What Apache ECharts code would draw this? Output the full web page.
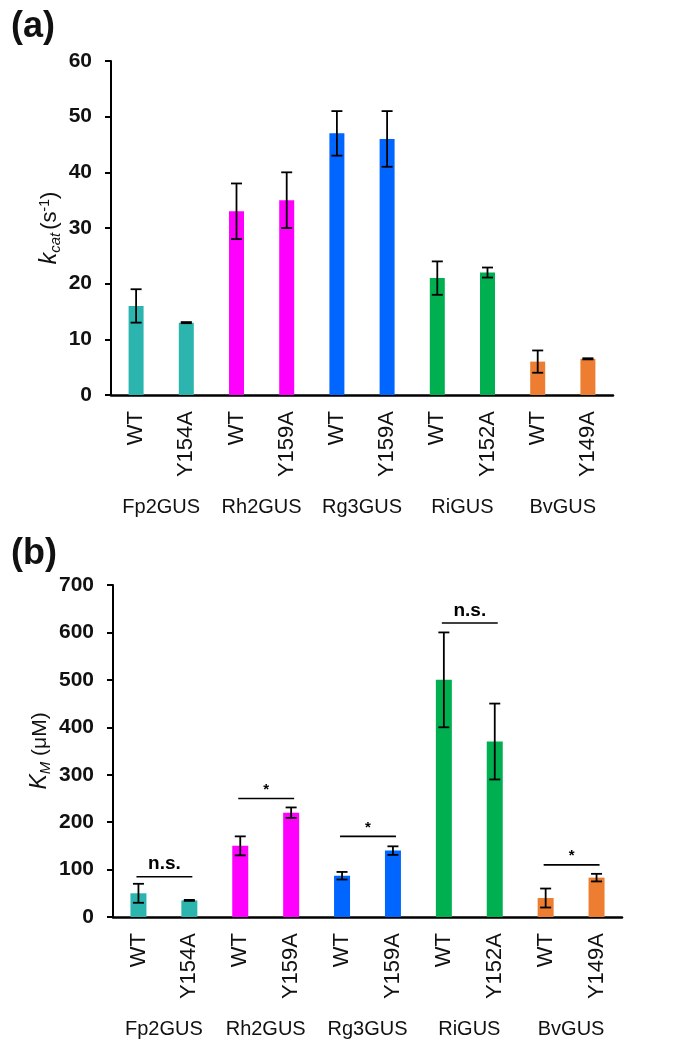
<!DOCTYPE html>
<html>
<head>
<meta charset="utf-8">
<script src="https://cdn.jsdelivr.net/npm/echarts@6/dist/echarts.min.js"></script>
<style>
html,body{margin:0;padding:0;background:#fff;}
#chart{width:681px;height:1050px;}
</style>
</head>
<body>
<div id="chart"></div>
<script>
// ---- data ----
const variants = ['WT','Y154A','WT','Y159A','WT','Y159A','WT','Y152A','WT','Y149A'];
const enzymes = ['Fp2GUS','Rh2GUS','Rg3GUS','RiGUS','BvGUS'];
const kcat = [16, 13, 33, 35, 47, 46, 21, 22, 6, 6.5];
const kcatErr = [3, 0.1, 5, 5, 4, 5, 3, 0.9, 2, 0.1];
const km = [50, 35, 150, 220, 87, 140, 500, 370, 40, 83];
const kmErr = [20, 1, 20, 11, 8, 9, 100, 80, 20, 8];
const sigLabels = ['n.s.', '*', '*', 'n.s.', '*'];
const sigLevels = [85, 250, 170, 620, 110];
const kcatTicks = {min: 0, max: 60, interval: 10};
const kmTicks = {min: 0, max: 700, interval: 100};

// ---- style ----
const groupColors = ['#2CB5AE', '#FF00FF', '#0066FF', '#00B050', '#ED7D31'];
const FONT = 'Arial, "Liberation Sans", sans-serif';

const chart = echarts.init(document.getElementById('chart'));

function barData(vals) {
  return vals.map((v, i) => ({value: v, itemStyle: {color: groupColors[Math.floor(i / 2)]}}));
}

function errRender(params, api) {
  const x = api.value(0), v = api.value(1), e = api.value(2);
  const t = api.coord([x, v + e]);
  const b = api.coord([x, v - e]);
  const hw = 5.5;
  const st = {stroke: '#000', lineWidth: 1.8};
  return {type: 'group', children: [
    {type: 'line', shape: {x1: t[0], y1: t[1], x2: b[0], y2: b[1]}, style: st},
    {type: 'line', shape: {x1: t[0] - hw, y1: t[1], x2: t[0] + hw, y2: t[1]}, style: st},
    {type: 'line', shape: {x1: b[0] - hw, y1: b[1], x2: b[0] + hw, y2: b[1]}, style: st}
  ]};
}

function sigRender(params, api) {
  const g = api.value(0), lv = api.value(1);
  const label = sigLabels[params.dataIndex];
  const a = api.coord([2 * g, lv]);
  const b = api.coord([2 * g + 1, lv]);
  const x1 = a[0] - 2, x2 = b[0] + 3, y = a[1];
  const isStar = label === '*';
  return {type: 'group', children: [
    {type: 'line', shape: {x1: x1, y1: y, x2: x2, y2: y}, style: {stroke: '#000', lineWidth: 1.6}},
    {type: 'text', style: {
      text: label, x: (x1 + x2) / 2, y: isStar ? y - 9 : y - 3,
      align: 'center', verticalAlign: isStar ? 'middle' : 'bottom',
      font: isStar ? ('bold 15px ' + FONT) : ('bold 19px ' + FONT), fill: '#000'
    }}
  ]};
}

function xAxes(gridIndex) {
  return [
    {
      type: 'category', gridIndex: gridIndex, data: variants, position: 'bottom',
      axisLine: {lineStyle: {color: '#000', width: 2.5}},
      axisTick: {show: false},
      axisLabel: {rotate: 90, margin: 16, fontSize: 22, color: '#111', fontFamily: FONT, interval: 0}
    },
    {
      type: 'category', gridIndex: gridIndex, data: enzymes, position: 'bottom',
      axisLine: {show: false}, axisTick: {show: false},
      axisLabel: {margin: 102, fontSize: 20, color: '#111', fontFamily: FONT, interval: 0}
    }
  ];
}

function yAxis(gridIndex, ticks, name, rich, gap, margin) {
  return {
    type: 'value', gridIndex: gridIndex, min: ticks.min, max: ticks.max, interval: ticks.interval,
    name: name, nameLocation: 'middle', nameGap: gap, nameMoveOverlap: false,
    nameTextStyle: {rich: rich, color: '#111'},
    axisLine: {show: true, lineStyle: {color: '#000', width: 2}},
    axisTick: {show: true, length: 6, lineStyle: {color: '#000', width: 2}},
    axisLabel: {margin: margin, fontSize: 21, fontWeight: 'bold', color: '#111', fontFamily: FONT},
    splitLine: {show: false}
  };
}

const richKcat = {
  i: {fontSize: 23, fontStyle: 'italic', fontFamily: FONT, lineHeight: 32, verticalAlign: 'middle'},
  sub: {fontSize: 15, fontStyle: 'italic', fontFamily: FONT, lineHeight: 32, verticalAlign: 'bottom', padding: [0, 3, 3, 0]},
  n: {fontSize: 22, fontFamily: FONT, lineHeight: 32, verticalAlign: 'middle'},
  sup: {fontSize: 14, fontFamily: FONT, lineHeight: 32, verticalAlign: 'top', padding: [4, 0, 0, 0]}
};
const richKm = {
  i: {fontSize: 23, fontStyle: 'italic', fontFamily: FONT, lineHeight: 32, verticalAlign: 'middle'},
  sub: {fontSize: 15, fontStyle: 'italic', fontFamily: FONT, lineHeight: 32, verticalAlign: 'bottom', padding: [0, 0, 3, 0]},
  n: {fontSize: 21, fontFamily: FONT, lineHeight: 32, verticalAlign: 'middle'}
};

const option = {
  backgroundColor: '#fff',
  animation: false,
  title: [
    {text: '(a)', left: 6, top: 4, textStyle: {fontSize: 36, fontWeight: 'bold', color: '#111', fontFamily: FONT}},
    {text: '(b)', left: 6, top: 531, textStyle: {fontSize: 36, fontWeight: 'bold', color: '#111', fontFamily: FONT}}
  ],
  grid: [
    {left: 111, top: 61, width: 502, height: 334},
    {left: 113, top: 585, width: 509, height: 332}
  ],
  xAxis: xAxes(0).concat(xAxes(1)),
  yAxis: [
    yAxis(0, kcatTicks, '{i|k}{sub|cat}{n|(s}{sup|-1}{n|)}', richKcat, 45, 19),
    yAxis(1, kmTicks, '{i|K}{sub|M}{n| (μM)}', richKm, 57, 19)
  ],
  series: [
    {type: 'bar', xAxisIndex: 0, yAxisIndex: 0, data: barData(kcat), barWidth: 15},
    {type: 'custom', xAxisIndex: 0, yAxisIndex: 0, renderItem: errRender,
     data: kcat.map((v, i) => [i, v, kcatErr[i]]), encode: {x: 0, y: 1}, z: 5},
    {type: 'bar', xAxisIndex: 2, yAxisIndex: 1, data: barData(km), barWidth: 16},
    {type: 'custom', xAxisIndex: 2, yAxisIndex: 1, renderItem: errRender,
     data: km.map((v, i) => [i, v, kmErr[i]]), encode: {x: 0, y: 1}, z: 5},
    {type: 'custom', xAxisIndex: 2, yAxisIndex: 1, renderItem: sigRender,
     data: sigLevels.map((lv, g) => [g, lv]), encode: {x: 0, y: 1}, z: 6}
  ]
};
chart.setOption(option);
</script>
</body>
</html>
